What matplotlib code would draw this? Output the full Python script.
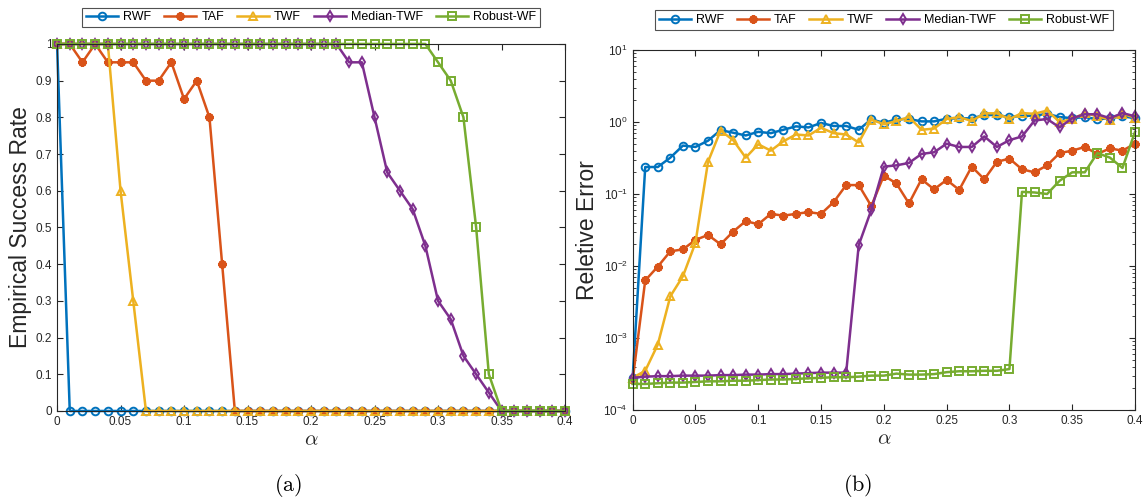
import matplotlib
matplotlib.use("Agg")
import matplotlib.pyplot as plt
import numpy as np

plt.rcParams['mathtext.fontset'] = 'cm'
plt.rcParams['font.family'] = ['Liberation Sans', 'DejaVu Sans']

alpha = np.round(np.arange(0, 0.401, 0.01), 2)

# (a) empirical success rate
sr_rwf = [1] + [0] * 40
sr_taf = [1, 1, 0.95, 1, 0.95, 0.95, 0.95, 0.9, 0.9, 0.95, 0.85, 0.9, 0.8, 0.4] + [0] * 27
sr_twf = [1, 1, 1, 1, 1, 0.6, 0.3] + [0] * 34
sr_mtwf = [1] * 23 + [0.95, 0.95, 0.8, 0.65, 0.6, 0.55, 0.45, 0.3, 0.25, 0.15, 0.1, 0.05] + [0] * 6
sr_rbwf = [1] * 30 + [0.95, 0.9, 0.8, 0.5, 0.1] + [0] * 6

# (b) relative error
re_rwf = [2.8e-4, 0.237, 0.237, 0.32, 0.47, 0.45, 0.55, 0.77, 0.71, 0.65, 0.73,
          0.70, 0.78, 0.87, 0.84, 0.97, 0.88, 0.88, 0.78, 1.09, 0.97,
          1.09, 1.10, 1.02, 1.02, 1.11, 1.13, 1.12, 1.25, 1.25, 1.17,
          1.22, 1.22, 1.30, 1.17, 1.13, 1.17, 1.09, 1.13, 1.20, 1.13]
re_taf = [2.6e-4, 6.3e-3, 9.8e-3, 0.016, 0.017, 0.023, 0.027, 0.020, 0.030, 0.042, 0.038,
          0.053, 0.050, 0.053, 0.056, 0.053, 0.077, 0.133, 0.133, 0.068, 0.18,
          0.14, 0.074, 0.16, 0.116, 0.157, 0.114, 0.24, 0.16, 0.28, 0.31,
          0.22, 0.20, 0.25, 0.37, 0.40, 0.45, 0.36, 0.43, 0.40, 0.50]
re_twf = [2.8e-4, 3.5e-4, 8.1e-4, 3.8e-3, 7.2e-3, 0.021, 0.28, 0.76, 0.56, 0.32, 0.49,
          0.40, 0.54, 0.67, 0.65, 0.83, 0.70, 0.67, 0.52, 1.08, 0.93,
          1.03, 1.17, 0.78, 0.81, 1.10, 1.17, 1.03, 1.32, 1.32, 1.10,
          1.33, 1.30, 1.44, 1.00, 1.10, 1.33, 1.20, 1.08, 1.30, 1.15]
re_mtwf = [2.8e-4, 2.9e-4, 2.95e-4, 2.95e-4, 3.0e-4, 3.0e-4, 3.0e-4, 3.05e-4, 3.05e-4, 3.1e-4, 3.1e-4,
           3.15e-4, 3.15e-4, 3.2e-4, 3.25e-4, 3.3e-4, 3.3e-4, 3.3e-4, 0.0195, 0.06, 0.24,
           0.25, 0.27, 0.36, 0.38, 0.50, 0.45, 0.45, 0.63, 0.45, 0.56,
           0.63, 1.05, 1.10, 0.84, 1.13, 1.28, 1.28, 1.13, 1.33, 1.20]
re_rbwf = [2.3e-4, 2.3e-4, 2.35e-4, 2.4e-4, 2.4e-4, 2.45e-4, 2.5e-4, 2.5e-4, 2.55e-4, 2.55e-4, 2.6e-4,
           2.65e-4, 2.65e-4, 2.7e-4, 2.75e-4, 2.8e-4, 2.85e-4, 2.85e-4, 2.9e-4, 3.0e-4, 3.0e-4,
           3.2e-4, 3.1e-4, 3.1e-4, 3.15e-4, 3.35e-4, 3.45e-4, 3.45e-4, 3.5e-4, 3.5e-4, 3.7e-4,
           0.107, 0.105, 0.10, 0.153, 0.20, 0.20, 0.37, 0.32, 0.23, 0.73]

names = ["RWF", "TAF", "TWF", "Median-TWF", "Robust-WF"]
colors = ["#0072BD", "#D95319", "#EDB120", "#7E2F8E", "#77AC30"]
markers = ["o", (8, 2, 0), "^", "d", "s"]
ink = "#262626"


def style_axes(ax):
    ax.tick_params(direction="in", which="both", top=True, right=True,
                   labelsize=8.5, colors=ink, length=4)
    ax.tick_params(which="minor", length=2)
    for s in ax.spines.values():
        s.set_color(ink)
        s.set_linewidth(0.8)
    ax.set_xlim(0, 0.4)
    ax.set_xticks(np.arange(0, 0.401, 0.05))
    ax.set_xticklabels(["0", "0.05", "0.1", "0.15", "0.2", "0.25", "0.3", "0.35", "0.4"])
    ax.set_xlabel(r"$\alpha$", fontsize=15, color=ink, labelpad=2)


def draw(ax, series, pad):
    for y, n, c, m in zip(series, names, colors, markers):
        if isinstance(m, tuple):
            ax.plot(alpha, y, color=c, marker=m, markersize=6, lw=1.8,
                    markeredgewidth=1.8, label=n, clip_on=False)
        else:
            ax.plot(alpha, y, color=c, marker=m, markersize=5.5, lw=1.8,
                    markerfacecolor="none", markeredgewidth=1.4, label=n, clip_on=False)
    leg = ax.legend(loc="lower center", bbox_to_anchor=(0.5, 1.0), ncol=5, fontsize=9,
                    frameon=True, fancybox=False, edgecolor=ink, handlelength=2.6,
                    columnspacing=1.0, handletextpad=0.4, borderpad=0.3,
                    borderaxespad=pad)
    leg.get_frame().set_linewidth(0.8)


fig = plt.figure(figsize=(11.48, 4.99), dpi=100)

ax1 = fig.add_axes([0.0497, 0.1764, 0.4425, 0.7355])
draw(ax1, [sr_rwf, sr_taf, sr_twf, sr_mtwf, sr_rbwf], 1.35)
style_axes(ax1)
ax1.set_ylim(0, 1)
ax1.set_yticks(np.arange(0, 1.01, 0.1))
ax1.set_yticklabels(["0", "0.1", "0.2", "0.3", "0.4", "0.5", "0.6", "0.7", "0.8", "0.9", "1"])
ax1.set_ylabel("Empirical Success Rate", fontsize=16.5, color=ink, labelpad=3)

ax2 = fig.add_axes([0.5511, 0.1784, 0.4376, 0.7214])
draw(ax2, [re_rwf, re_taf, re_twf, re_mtwf, re_rbwf], 1.6)
ax2.set_yscale("log")
style_axes(ax2)
ax2.set_ylim(1e-4, 10)
ax2.set_ylabel("Reletive Error", fontsize=16.5, color=ink, labelpad=3)

fig.text(0.2507, 0.0, r"$\mathrm{(a)}$", fontsize=16, ha="center", va="bottom")
fig.text(0.7475, 0.0, r"$\mathrm{(b)}$", fontsize=16, ha="center", va="bottom")

fig.savefig("out.png", dpi=100)
